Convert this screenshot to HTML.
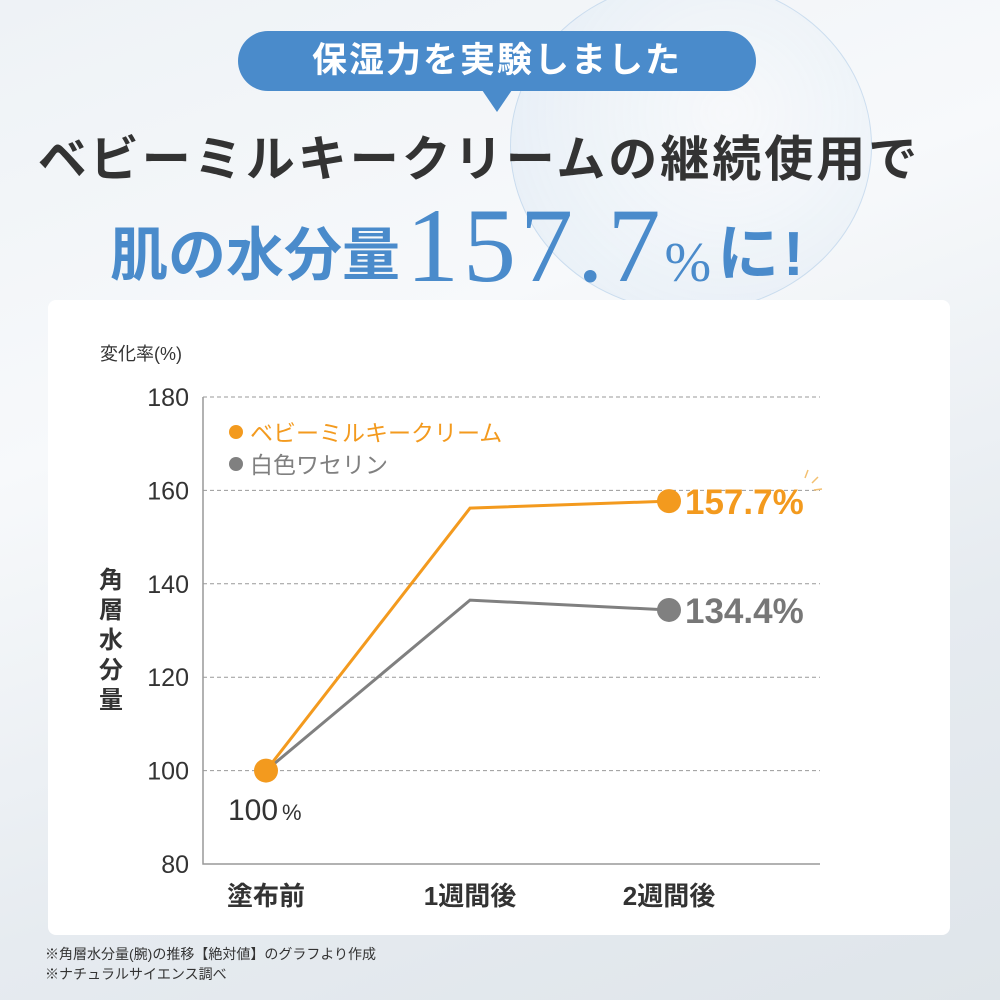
<!DOCTYPE html>
<html><head><meta charset="utf-8"><style>
html,body{margin:0;padding:0}
body{width:1000px;height:1000px;overflow:hidden;position:relative;font-family:"Liberation Sans","Noto Sans CJK JP",sans-serif;background:linear-gradient(160deg,#eef2f6 0%,#f7f9fb 35%,#e6ebf0 70%,#dfe5ea 100%)}
.abs{position:absolute}
</style></head><body>
<div class="abs" style="left:510px;top:-20px;width:360px;height:330px;border-radius:50%;background:radial-gradient(circle at 60% 40%,rgba(255,255,255,0.2),rgba(200,220,240,0.35));border:1px solid rgba(170,200,230,0.5)"></div>
<div class="abs" style="left:238px;top:31px;width:518px;height:60px;border-radius:30px;background:#4a8bcb;color:#fff;font-size:35px;font-weight:bold;text-align:center;line-height:60px;letter-spacing:2px">保湿力を実験しました</div>
<div class="abs" style="left:482px;top:90px;width:0;height:0;border-left:15px solid transparent;border-right:15px solid transparent;border-top:22px solid #4a8bcb"></div>
<div class="abs" style="left:0;top:125px;width:958px;text-align:center;font-size:49px;font-weight:bold;color:#333;letter-spacing:3px;line-height:70px">ベビーミルキークリームの継続使用で</div>
<div class="abs" style="left:110px;top:196px;width:800px;color:#4a8bcb;white-space:nowrap;line-height:100px"><span style="font-size:58px;font-weight:bold;vertical-align:6px">肌の水分量</span><span style="font-family:'Liberation Serif',serif;font-size:106px;letter-spacing:4px;margin-left:6px">157.7</span><span style="font-family:'Liberation Serif',serif;font-size:56px;margin-right:6px">%</span><span style="font-size:62px;font-weight:bold;vertical-align:6px;letter-spacing:4px">に!</span></div>
<div class="abs" style="left:48px;top:300px;width:902px;height:635px;background:#fff;border-radius:8px"></div>
<div class="abs" style="left:45px;top:944px;font-size:14px;color:#333">※角層水分量(腕)の推移【絶対値】のグラフより作成</div>
<div class="abs" style="left:45px;top:964px;font-size:14px;color:#333">※ナチュラルサイエンス調べ</div>
<svg class="abs" style="left:0;top:0" width="1000" height="1000" id="chart"></svg>
<script>
const categories=["塗布前","1週間後","2週間後"];
const creamValues=[100,156.2,157.7];
const vaselineValues=[100,136.5,134.4];
const yTicks=[80,100,120,140,160,180];
const seriesNames=["ベビーミルキークリーム","白色ワセリン"];
const endLabels=["157.7%","134.4%"];
const NS="http://www.w3.org/2000/svg";
const svg=document.getElementById('chart');
const X0=203,X1=820,Y0=864,Y1=397;
const xs=[266,470,669];
function xPos(i){return xs[i];}
function yPos(v){return Y0-(v-80)/(180-80)*(Y0-Y1);}
function mk(t,a,txt){const e=document.createElementNS(NS,t);for(const k in a)e.setAttribute(k,a[k]);if(txt!==undefined)e.textContent=txt;svg.appendChild(e);return e;}
yTicks.forEach(v=>{
  if(v>80){const g=mk('line',{x1:X0,x2:X1,y1:yPos(v),y2:yPos(v),stroke:'#999','stroke-dasharray':'4 3','stroke-width':1});
  
  }
  const t=mk('text',{x:189,y:yPos(v)+9,'text-anchor':'end','font-size':25,fill:'#333'},v);
  
  
});
const ax=mk('polyline',{points:`${X0},${Y1} ${X0},${Y0} ${X1},${Y0}`,fill:'none',stroke:'#999','stroke-width':1.5});


categories.forEach((c,i)=>{const t=mk('text',{x:xPos(i),y:905,'text-anchor':'middle','font-size':26,fill:'#333','font-weight':'bold'},c);

});
const yl=mk('text',{x:100,y:360,'font-size':18,fill:'#333'},'変化率(%)');


['角','層','水','分','量'].forEach((ch,i)=>{const t=mk('text',{x:111,y:588+i*30,'text-anchor':'middle','font-size':24,'font-weight':'bold',fill:'#333'},ch);

});
function series(vals,color,name){
  const p=mk('polyline',{points:vals.map((v,i)=>xPos(i)+','+yPos(v)).join(' '),fill:'none',stroke:color,'stroke-width':3});
  
  
  const last=vals.length-1;
  const c=mk('circle',{cx:xPos(last),cy:yPos(vals[last]),r:12,fill:color});
  
  
}
series(vaselineValues,'#808080','vaseline');
series(creamValues,'#f39a1e','cream');
const c0=mk('circle',{cx:xPos(0),cy:yPos(creamValues[0]),r:12,fill:'#f39a1e'});


const l0=mk('text',{x:228,y:820,'font-size':30,fill:'#333'},'100');


const l0p=mk('text',{x:282,y:820,'font-size':22,fill:'#333'},'%');


const e1=mk('text',{x:685,y:yPos(creamValues[2])+13,'font-size':35,'font-weight':'bold',fill:'#f39a1e'},endLabels[0]);


const e2=mk('text',{x:685,y:yPos(vaselineValues[2])+13,'font-size':35,'font-weight':'bold',fill:'#777'},endLabels[1]);


[[805,478,808,470],[812,483,818,477],[814,490,822,489]].forEach(a=>{const s=mk('line',{x1:a[0],y1:a[1],x2:a[2],y2:a[3],stroke:'#f3c070','stroke-width':1.5});

});
const lg=[['#f39a1e',432],['#808080',464]];
lg.forEach((l,i)=>{const c=mk('circle',{cx:236,cy:l[1],r:7,fill:l[0]});


const t=mk('text',{x:250,y:l[1]+9,'font-size':23,fill:l[0]},seriesNames[i]);

});
</script>
</body></html>
